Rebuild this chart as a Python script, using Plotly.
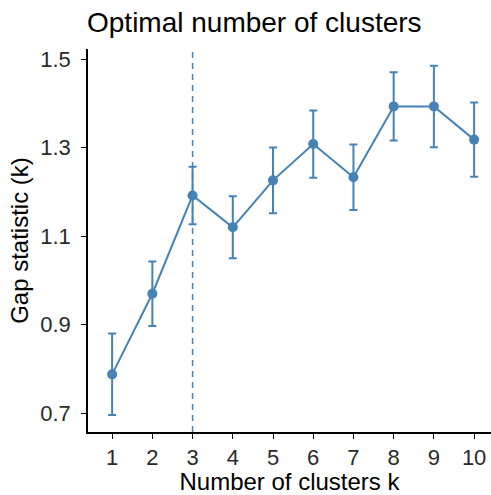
import plotly.graph_objects as go

k = [1, 2, 3, 4, 5, 6, 7, 8, 9, 10]
gap = [0.788, 0.970, 1.192, 1.120, 1.226, 1.308, 1.233, 1.393, 1.393, 1.318]
se = [0.092, 0.073, 0.065, 0.070, 0.074, 0.076, 0.074, 0.077, 0.092, 0.084]
optimal_k = 3
xticks = [1, 2, 3, 4, 5, 6, 7, 8, 9, 10]
yticks = [0.7, 0.9, 1.1, 1.3, 1.5]

color = "#4682B4"
font = "Liberation Sans, Arial, Helvetica, sans-serif"

fig = go.Figure()
fig.add_trace(go.Scatter(
    x=k, y=gap, mode="lines+markers",
    line=dict(color=color, width=2),
    marker=dict(color=color, size=10),
    error_y=dict(type="data", array=se, color=color, thickness=2, width=4),
    showlegend=False,
))
fig.add_vline(x=optimal_k, line=dict(color=color, width=1.5, dash="6px,5px"))

fig.update_layout(
    width=491, height=495,
    margin=dict(l=88, r=0, t=49, b=63),
    plot_bgcolor="white", paper_bgcolor="white",
    font=dict(family=font, color="black"),
    title=dict(text="Optimal number of clusters", x=87/491, xanchor="left",
               y=1 - 32/495, yanchor="bottom", font=dict(size=28, color="black")),
    xaxis=dict(range=[0.40, 10.42], tickvals=xticks, ticktext=[str(v) for v in xticks],
               showgrid=False, zeroline=False, showline=True, linecolor="black", linewidth=1.5,
               ticks="outside", ticklen=5, tickwidth=1.2, tickcolor="black",
               tickfont=dict(size=22, color="#2a2a2a"),
               title=dict(text="Number of clusters k", font=dict(size=24, color="black"), standoff=2)),
    yaxis=dict(range=[0.6578, 1.5226], tickvals=yticks, ticktext=[f"{v:.1f}" for v in yticks],
               showgrid=False, zeroline=False, showline=True, linecolor="black", linewidth=1.5,
               ticks="outside", ticklen=5, tickwidth=1.2, tickcolor="black",
               tickfont=dict(size=22, color="#2a2a2a"), ticklabelstandoff=6,
               title=dict(text="Gap statistic (k)", font=dict(size=24, color="black"), standoff=5)),
)

fig.write_html("out.html")
